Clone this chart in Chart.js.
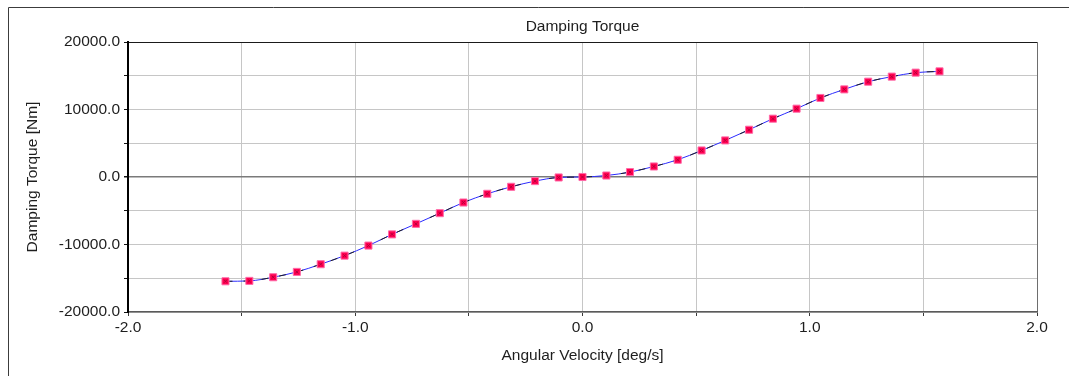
<!DOCTYPE html>
<html>
<head>
<meta charset="utf-8">
<title>Damping Torque</title>
<script src="https://cdn.jsdelivr.net/npm/chart.js@4/dist/chart.umd.min.js"></script>
<style>
  html, body { margin: 0; padding: 0; background: #fff; }
  #torqueChart { display: block; }
</style>
</head>
<body>
<canvas id="torqueChart" width="1069" height="376"></canvas>
<script>
// angular velocity samples [deg/s]
var velocity = [
    -1.571, -1.466, -1.361, -1.257, -1.152, -1.047, -0.942, -0.838,
    -0.733, -0.628, -0.524, -0.419, -0.314, -0.209, -0.105, 0.0,
    0.105, 0.209, 0.314, 0.419, 0.524, 0.628, 0.733, 0.838,
    0.942, 1.047, 1.152, 1.257, 1.361, 1.466, 1.571
];
// damping torque [Nm]
var torque = [
    -15450, -15390, -14850, -14060, -12920, -11650, -10160, -8500,
    -6940, -5360, -3780, -2490, -1450, -610, -70, 0,
    220, 730, 1560, 2550, 3930, 5420, 7000, 8640,
    10120, 11710, 12980, 14120, 14870, 15460, 15650
];
var xTickLabels = ['-2.0', '-1.0', '0.0', '1.0', '2.0'];
var yTickLabels = ['-20000.0', '-10000.0', '0.0', '10000.0', '20000.0'];

var points = velocity.map(function(v, i) { return { x: v, y: torque[i] }; });

var fontFamily = '"Liberation Sans", Arial, sans-serif';
var textColor = '#1e1e1e';
var labelFont = { family: fontFamily, size: 15.5, lineHeight: 1.2 };

// outer panel border (left and top edges only)
var panelFrame = {
    id: 'panelFrame',
    afterDraw: function(chart) {
        var ctx = chart.ctx;
        ctx.save();
        ctx.strokeStyle = '#3c3c3c';
        ctx.lineWidth = 1;
        ctx.beginPath();
        ctx.moveTo(8.5, chart.height);
        ctx.lineTo(8.5, 7.5);
        ctx.lineTo(chart.width, 7.5);
        ctx.stroke();
        ctx.restore();
    }
};

var ctx = document.getElementById('torqueChart').getContext('2d');
var chart = new Chart(ctx, {
    type: 'scatter',
    data: {
        datasets: [
            {
                // small dark crosses inside the markers
                data: points,
                showLine: false,
                pointStyle: 'crossRot',
                pointRadius: 2,
                pointBorderColor: '#b2003c',
                pointBorderWidth: 1,
                pointBackgroundColor: 'transparent'
            },
            {
                data: points,
                showLine: true,
                borderColor: '#202020',
                borderWidth: 1,
                borderDash: [7, 11],
                cubicInterpolationMode: 'monotone',
                pointStyle: 'rect',
                pointRadius: 5,
                pointBackgroundColor: '#ff0050',
                pointBorderColor: '#ff6aa8',
                pointBorderWidth: 1
            },
            {
                data: points,
                showLine: true,
                borderColor: '#2b2bff',
                borderWidth: 1,
                cubicInterpolationMode: 'monotone',
                pointRadius: 0
            }
        ]
    },
    options: {
        responsive: false,
        animation: false,
        devicePixelRatio: 1,
        layout: { padding: { left: 0, right: 32, top: 0, bottom: 0 } },
        plugins: {
            legend: { display: false },
            tooltip: { enabled: false }
        },
        scales: {
            // top axis only carries the chart title, centred over the plot
            top: {
                type: 'linear',
                position: 'top',
                min: -2,
                max: 2,
                afterFit: function(scale) { scale.height = 42; },
                ticks: { display: false },
                grid: { display: false },
                border: { display: false },
                title: {
                    display: true,
                    text: 'Damping Torque',
                    color: textColor,
                    font: labelFont,
                    padding: { top: 17, bottom: 0 }
                }
            },
            x: {
                type: 'linear',
                position: 'bottom',
                min: -2,
                max: 2,
                afterFit: function(scale) { scale.height = 64; },
                ticks: {
                    stepSize: 0.5,
                    color: textColor,
                    padding: 2,
                    maxRotation: 0,
                    autoSkip: false,
                    font: labelFont,
                    callback: function(v) {
                        var s = Number(v).toFixed(1);
                        return xTickLabels.indexOf(s) >= 0 ? s : '';
                    }
                },
                grid: {
                    color: function(c) {
                        if (c.tick && c.tick.value === 2) return '#6e6e6e';
                        return '#c6c6c6';
                    },
                    lineWidth: 1,
                    tickLength: 4,
                    tickColor: '#3a3a3a'
                },
                border: { color: '#5a5a5a', width: 1.5 },
                title: {
                    display: true,
                    text: 'Angular Velocity [deg/s]',
                    color: textColor,
                    font: labelFont,
                    padding: { top: 0, bottom: 11 }
                }
            },
            y: {
                type: 'linear',
                min: -20000,
                max: 20000,
                afterFit: function(scale) { scale.width = 128; },
                ticks: {
                    stepSize: 5000,
                    color: textColor,
                    padding: 4,
                    autoSkip: false,
                    font: labelFont,
                    callback: function(v) {
                        var s = Number(v).toFixed(1);
                        return yTickLabels.indexOf(s) >= 0 ? s : '';
                    }
                },
                grid: {
                    color: function(c) {
                        if (!c.tick) return '#c6c6c6';
                        if (c.tick.value === 20000) return '#1a1a1a';
                        if (c.tick.value === 0) return '#7a7a7a';
                        return '#c6c6c6';
                    },
                    lineWidth: function(c) {
                        if (c.tick && c.tick.value === 0) return 1.5;
                        return 1;
                    },
                    tickLength: 4,
                    tickColor: '#111111'
                },
                border: { color: '#000000', width: 2 },
                title: {
                    display: true,
                    text: 'Damping Torque [Nm]',
                    color: textColor,
                    font: labelFont,
                    padding: { top: 23, bottom: 0 }
                }
            }
        }
    },
    plugins: [panelFrame]
});
</script>
</body>
</html>
